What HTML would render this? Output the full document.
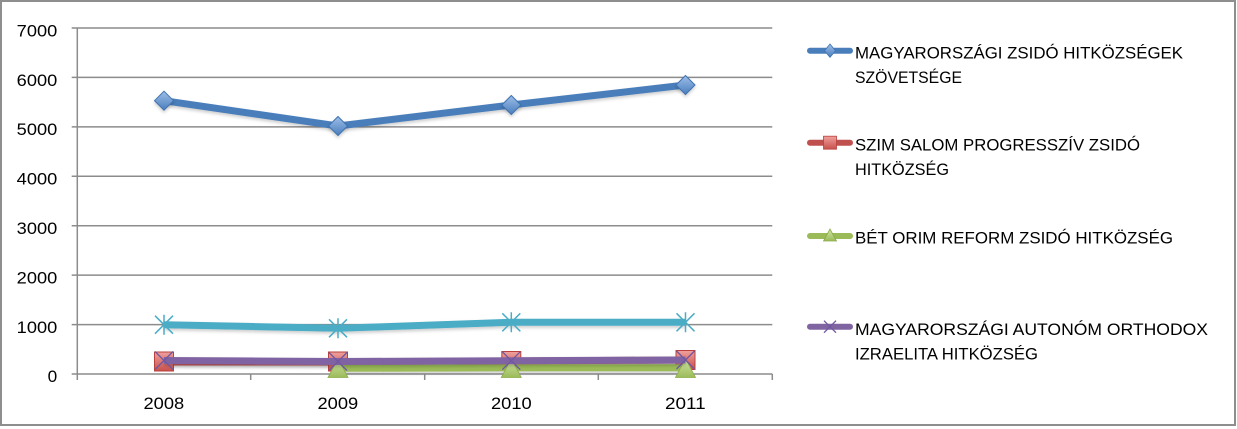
<!DOCTYPE html>
<html><head><meta charset="utf-8"><style>
html,body{margin:0;padding:0;background:#fff;}
svg{display:block;}
text{font-family:"Liberation Sans","DejaVu Sans",sans-serif;fill:#000;}
</style></head><body>
<svg width="1237" height="429" viewBox="0 0 1237 429" xmlns="http://www.w3.org/2000/svg">
<defs>
<filter id="sh" filterUnits="userSpaceOnUse" x="0" y="0" width="1237" height="429">
<feDropShadow dx="0" dy="2" stdDeviation="1.5" flood-color="#000" flood-opacity="0.2"/>
</filter>
<linearGradient id="gb" x1="0" y1="0" x2="0" y2="1"><stop offset="0" stop-color="#9dbfea"/><stop offset="1" stop-color="#4a7ebb"/></linearGradient>
<linearGradient id="gr" x1="0" y1="0" x2="0" y2="1"><stop offset="0" stop-color="#f0a09c"/><stop offset="1" stop-color="#c9504c"/></linearGradient>
<linearGradient id="gg" x1="0" y1="0" x2="0" y2="1"><stop offset="0" stop-color="#d2e6a8"/><stop offset="1" stop-color="#9bbb59"/></linearGradient>
</defs>
<rect x="0" y="0" width="1237" height="429" fill="#fff"/>
<rect x="1" y="1" width="1234" height="424" fill="none" stroke="#8e8e8e" stroke-width="2"/>

<!-- gridlines -->
<g stroke="#8c8c8c" stroke-width="1.5" fill="none">
<line x1="71.7" y1="28" x2="772.3" y2="28"/>
<line x1="71.7" y1="77.4" x2="772.3" y2="77.4"/>
<line x1="71.7" y1="126.9" x2="772.3" y2="126.9"/>
<line x1="71.7" y1="176.3" x2="772.3" y2="176.3"/>
<line x1="71.7" y1="225.7" x2="772.3" y2="225.7"/>
<line x1="71.7" y1="275.1" x2="772.3" y2="275.1"/>
<line x1="71.7" y1="324.6" x2="772.3" y2="324.6"/>
<line x1="71.7" y1="374" x2="772.3" y2="374"/>
<line x1="77.3" y1="28" x2="77.3" y2="380"/>
<line x1="250.7" y1="374" x2="250.7" y2="380"/>
<line x1="424.7" y1="374" x2="424.7" y2="380"/>
<line x1="598.3" y1="374" x2="598.3" y2="380"/>
<line x1="772.3" y1="374" x2="772.3" y2="380"/>
</g>

<!-- y labels -->
<g font-size="17">
<text x="16.7" y="36.4" textLength="40.6" lengthAdjust="spacingAndGlyphs">7000</text>
<text x="16.7" y="85.8" textLength="40.6" lengthAdjust="spacingAndGlyphs">6000</text>
<text x="16.7" y="135.2" textLength="40.6" lengthAdjust="spacingAndGlyphs">5000</text>
<text x="16.7" y="184.6" textLength="40.6" lengthAdjust="spacingAndGlyphs">4000</text>
<text x="16.7" y="234" textLength="40.6" lengthAdjust="spacingAndGlyphs">3000</text>
<text x="16.7" y="283.4" textLength="40.6" lengthAdjust="spacingAndGlyphs">2000</text>
<text x="16.7" y="332.9" textLength="40.6" lengthAdjust="spacingAndGlyphs">1000</text>
<text x="47.7" y="382.2" textLength="9.6" lengthAdjust="spacingAndGlyphs">0</text>
</g>
<!-- x labels -->
<g font-size="17">
<text x="143.5" y="409" textLength="40.7" lengthAdjust="spacingAndGlyphs">2008</text>
<text x="317.5" y="409" textLength="40.7" lengthAdjust="spacingAndGlyphs">2009</text>
<text x="491" y="409" textLength="40.7" lengthAdjust="spacingAndGlyphs">2010</text>
<text x="665" y="409" textLength="40.7" lengthAdjust="spacingAndGlyphs">2011</text>
</g>

<!-- blue series -->
<g filter="url(#sh)">
<polyline points="164,100.7 338,126 511.3,105 685.5,85" fill="none" stroke="#4a7ebb" stroke-width="7" stroke-linejoin="round"/>
</g>
<g fill="url(#gb)" stroke="#3f72b0" stroke-width="1" filter="url(#sh)">
<path d="M164,91.2 L173.5,100.7 L164,110.2 L154.5,100.7Z"/>
<path d="M338,116.5 L347.5,126 L338,135.5 L328.5,126Z"/>
<path d="M511.3,95.5 L520.8,105 L511.3,114.5 L501.8,105Z"/>
<path d="M685.5,75.5 L695,85 L685.5,94.5 L676,85Z"/>
</g>

<!-- red series -->
<g filter="url(#sh)">
<polyline points="164,362 338,362 511.3,361 685.5,360" fill="none" stroke="#c0504d" stroke-width="7" stroke-linejoin="round"/>
</g>
<g fill="url(#gr)" stroke="#b8423f" stroke-width="1">
<rect x="154.5" y="352" width="19" height="19"/>
<rect x="328.5" y="352" width="19" height="19"/>
<rect x="501.8" y="351.5" width="19" height="19"/>
<rect x="676" y="350.5" width="19" height="19"/>
</g>

<!-- green series -->
<g filter="url(#sh)">
<polyline points="338,368.3 511.3,367.8 685.5,367.8" fill="none" stroke="#9bbb59" stroke-width="7" stroke-linejoin="round"/>
</g>
<g fill="url(#gg)" stroke="#8aab4a" stroke-width="0.8">
<path d="M338,358.5 L348,377.5 L328,377.5Z"/>
<path d="M511.3,358.5 L521.3,377.5 L501.3,377.5Z"/>
<path d="M685.5,358.5 L695.5,377.5 L675.5,377.5Z"/>
</g>

<!-- purple series -->
<g filter="url(#sh)">
<polyline points="164,360.5 338,361.5 511.3,360.7 685.5,360" fill="none" stroke="#8064a2" stroke-width="7" stroke-linejoin="round"/>
</g>
<g stroke="#7057a0" stroke-width="1.3" fill="none">
<path d="M155,351.5 L173,369.5 M155,369.5 L173,351.5"/>
<path d="M329,352.5 L347,370.5 M329,370.5 L347,352.5"/>
<path d="M502.3,351.7 L520.3,369.7 M502.3,369.7 L520.3,351.7"/>
<path d="M676.5,351 L694.5,369 M676.5,369 L694.5,351"/>
</g>

<!-- cyan series -->
<g filter="url(#sh)">
<polyline points="164,324.7 338,328.3 511.3,322.3 685.5,322.3" fill="none" stroke="#4bacc6" stroke-width="7" stroke-linejoin="round"/>
</g>
<g stroke="#4bacc6" stroke-width="1.5" fill="none">
<path d="M155,315.7 L173,333.7 M155,333.7 L173,315.7 M164,314.7 L164,334.7"/>
<path d="M329,319.3 L347,337.3 M329,337.3 L347,319.3 M338,318.3 L338,338.3"/>
<path d="M502.3,313.3 L520.3,331.3 M502.3,331.3 L520.3,313.3 M511.3,312.3 L511.3,332.3"/>
<path d="M676.5,313.3 L694.5,331.3 M676.5,331.3 L694.5,313.3 M685.5,312.3 L685.5,332.3"/>
</g>

<!-- legend -->
<g stroke-width="6" stroke-linecap="round" fill="none">
<line x1="810" y1="50.7" x2="850" y2="50.7" stroke="#4a7ebb"/>
<line x1="810" y1="142.7" x2="850" y2="142.7" stroke="#c0504d"/>
<line x1="810" y1="236" x2="850" y2="236" stroke="#9bbb59"/>
<line x1="810" y1="326.7" x2="850" y2="326.7" stroke="#8064a2"/>
</g>
<path d="M830,44 L835.5,50.7 L830,57.4 L824.5,50.7Z" fill="url(#gb)" stroke="#3f72b0" stroke-width="0.8"/>
<rect x="823.5" y="136.2" width="13" height="13" fill="url(#gr)" stroke="#b8423f" stroke-width="0.8"/>
<path d="M830,229 L836.5,241 L823.5,241Z" fill="url(#gg)" stroke="#8aab4a" stroke-width="0.8"/>
<path d="M824,320.7 L836,332.7 M824,332.7 L836,320.7" stroke="#7057a0" stroke-width="1.3" fill="none"/>

<g font-size="17">
<text x="855" y="58.7" textLength="328" lengthAdjust="spacingAndGlyphs">MAGYARORSZÁGI ZSIDÓ HITKÖZSÉGEK</text>
<text x="855" y="83.2" textLength="107" lengthAdjust="spacingAndGlyphs">SZÖVETSÉGE</text>
<text x="855" y="150.5" textLength="285" lengthAdjust="spacingAndGlyphs">SZIM SALOM PROGRESSZÍV ZSIDÓ</text>
<text x="855" y="175.2" textLength="94" lengthAdjust="spacingAndGlyphs">HITKÖZSÉG</text>
<text x="855" y="243.4" textLength="318" lengthAdjust="spacingAndGlyphs">BÉT ORIM REFORM ZSIDÓ HITKÖZSÉG</text>
<text x="855" y="335" textLength="353" lengthAdjust="spacingAndGlyphs">MAGYARORSZÁGI AUTONÓM ORTHODOX</text>
<text x="855" y="359.4" textLength="183" lengthAdjust="spacingAndGlyphs">IZRAELITA HITKÖZSÉG</text>
</g>
</svg>
</body></html>
